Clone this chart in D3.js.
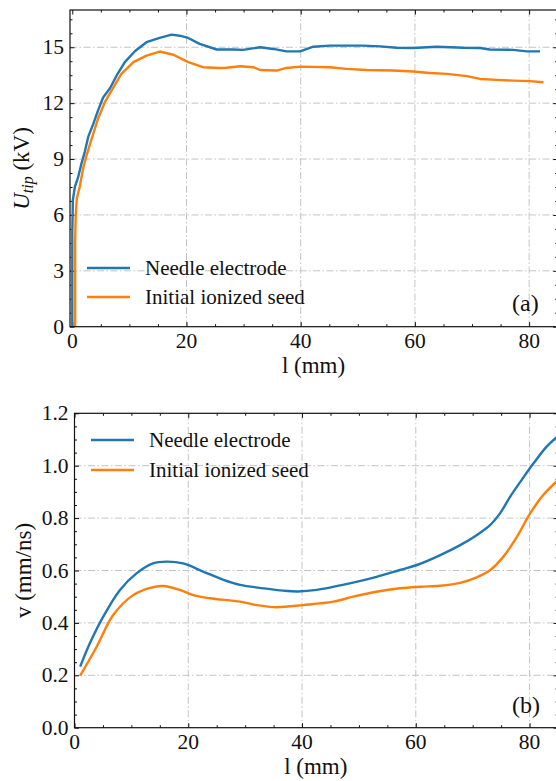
<!DOCTYPE html>
<html>
<head>
<meta charset="utf-8">
<script src="https://cdn.jsdelivr.net/npm/d3@7"></script>
<style>
html,body{margin:0;padding:0;background:#fff;}
svg{display:block;}
text{font-family:"Liberation Serif","Times New Roman",serif;fill:#111;}
</style>
</head>
<body>
<svg id="chart" width="556" height="781"></svg>
<script>
// ---- Data ----
const seriesNames = ["Needle electrode", "Initial ionized seed"];
const seriesColors = ["#1f77b4", "#ff7f0e"];

// Panel (a): tip voltage U_tip (kV) vs length l (mm)
const aNeedleL = [0,0,0.1,0.45,1.0,1.6,2.2,2.8,3.7,4.5,5.4,6.6,7.8,9.2,11.0,13.0,15.3,17.4,18.8,20.3,22.3,25.3,28.2,29.9,32.9,35.2,37.5,39.9,42.2,45.1,50.9,53.9,56.8,59.7,63.8,68.5,71.4,73.1,77.2,79.6,81.9];
const aNeedleU = [0,5,6.8,7.5,8.0,8.75,9.4,10.2,10.9,11.6,12.3,12.8,13.5,14.2,14.8,15.27,15.5,15.68,15.62,15.5,15.18,14.88,14.88,14.86,15.0,14.91,14.78,14.78,15.03,15.09,15.09,15.05,14.97,14.96,15.03,14.97,14.96,14.88,14.86,14.78,14.78];
const aSeedL = [0.5,0.5,0.6,0.8,1.3,1.9,2.5,3.4,4.5,5.7,7.2,8.6,10.7,13.0,15.3,17.7,20.3,22.9,25.8,27.0,29.4,31.7,32.9,35.8,37.5,39.9,45.1,48.0,51.5,56.2,59.7,62.6,65.6,69.1,71.4,74.3,77.2,80.1,82.5];
const aSeedU = [0,4.5,6.0,6.9,7.5,8.5,9.2,10.1,11.16,12.05,12.85,13.57,14.2,14.55,14.77,14.6,14.2,13.93,13.89,13.9,13.98,13.93,13.78,13.75,13.89,13.96,13.93,13.84,13.78,13.75,13.7,13.62,13.57,13.45,13.3,13.25,13.21,13.18,13.12];

// Panel (b): velocity v (mm/ns) vs length l (mm)
const bNeedleL = [1,2.7,5.05,8.0,10.9,13.8,16.2,19.1,22.6,26.2,29.1,33.2,36.7,39.3,42.6,48.4,53.1,57.2,60.2,64.3,67.8,70.7,73.1,74.8,76.6,78.4,80.7,83.0,85];
const bNeedleV = [0.233,0.322,0.424,0.526,0.589,0.627,0.634,0.627,0.596,0.564,0.545,0.532,0.523,0.520,0.526,0.551,0.576,0.602,0.621,0.659,0.697,0.735,0.774,0.818,0.882,0.939,1.009,1.073,1.113];
const bSeedL = [1,3.9,6.8,10.3,13.3,15.6,18.5,20.9,23.8,29.1,32.0,35.5,40.2,45.5,49.0,53.1,57.2,60.8,64.3,67.8,70.7,73.1,75.4,77.8,80.1,82.4,85];
const bSeedV = [0.199,0.309,0.43,0.506,0.534,0.541,0.526,0.506,0.494,0.481,0.468,0.46,0.468,0.481,0.5,0.519,0.532,0.538,0.542,0.553,0.574,0.602,0.653,0.729,0.818,0.888,0.945];

const xTicks = [0,20,40,60,80];
const aYTicks = [0,3,6,9,12,15];
const bYTicks = [0,0.2,0.4,0.6,0.8,1.0,1.2];
const aYLabel = ["U", "tip", " (kV)"];
const bYLabel = "v (mm/ns)";
const xLabel = "l (mm)";
const panelTags = ["(a)", "(b)"];

// ---- Drawing ----
const svg = d3.select("#chart");

function panel(cfg) {
  const g = svg.append("g");
  const x = d3.scaleLinear().domain(cfg.xDomain).range([cfg.left, cfg.right]);
  const y = d3.scaleLinear().domain(cfg.yDomain).range([cfg.bottom, cfg.top]);
  const clipId = "clip" + cfg.id;
  svg.append("clipPath").attr("id", clipId).append("rect")
    .attr("x", cfg.left).attr("y", cfg.top)
    .attr("width", cfg.right - cfg.left).attr("height", cfg.bottom - cfg.top);

  // grid
  const grid = g.append("g").attr("stroke", "#c4c4c4").attr("stroke-width", 1)
    .attr("stroke-dasharray", "7,2.5,1.5,2.5").attr("fill", "none");
  xTicks.forEach(t => { if (t > cfg.xDomain[0] + 0.5) grid.append("line").attr("x1", x(t)).attr("x2", x(t)).attr("y1", cfg.top).attr("y2", cfg.bottom); });
  cfg.yTicks.forEach(t => { if (t > cfg.yDomain[0] && t < cfg.yDomain[1]) grid.append("line").attr("x1", cfg.left).attr("x2", cfg.right).attr("y1", y(t)).attr("y2", y(t)); });

  // axes (ticks inward, all four sides)
  const majorLen = 4.5, minorLen = 2.5;
  const xMinor = d3.range(0, 86, 5).filter(v => !xTicks.includes(v));
  const yMinor = d3.range(cfg.yDomain[0], cfg.yDomain[1] + 1e-9, cfg.yMinorStep).map(v => +v.toFixed(4)).filter(v => !cfg.yTicks.some(t => Math.abs(t - v) < 1e-6));

  const ax = (scale, orient, ticks, len) =>
    orient(scale).tickValues(ticks).tickSizeInner(-len).tickSizeOuter(0).tickFormat("");
  function drawAxis(gen, transform) {
    const s = g.append("g").attr("transform", transform).call(gen);
    s.select(".domain").remove();
    s.selectAll("line").attr("stroke", "#111").attr("stroke-width", 1);
    return s;
  }
  drawAxis(ax(x, d3.axisBottom, xTicks, majorLen), `translate(0,${cfg.bottom})`);
  drawAxis(ax(x, d3.axisBottom, xMinor, minorLen), `translate(0,${cfg.bottom})`);
  drawAxis(ax(x, d3.axisTop, xTicks, majorLen), `translate(0,${cfg.top})`);
  drawAxis(ax(x, d3.axisTop, xMinor, minorLen), `translate(0,${cfg.top})`);
  drawAxis(ax(y, d3.axisLeft, cfg.yTicks, majorLen), `translate(${cfg.left},0)`);
  drawAxis(ax(y, d3.axisLeft, yMinor, minorLen), `translate(${cfg.left},0)`);
  drawAxis(ax(y, d3.axisRight, cfg.yTicks, majorLen), `translate(${cfg.right},0)`);
  drawAxis(ax(y, d3.axisRight, yMinor, minorLen), `translate(${cfg.right},0)`);

  // tick labels
  const fs = 21.5;
  xTicks.forEach(t => g.append("text").attr("x", x(t)).attr("y", cfg.bottom + 21.5)
    .attr("text-anchor", "middle").attr("font-size", fs).text(t));
  cfg.yTicks.forEach(t => g.append("text").attr("x", cfg.left - 6).attr("y", y(t) + 7)
    .attr("text-anchor", "end").attr("font-size", fs).text(cfg.yFmt(t)));

  // lines
  const lineG = g.append("g").attr("clip-path", `url(#${clipId})`);
  cfg.series.forEach((s, i) => {
    const pts = s.xs.map((v, k) => [v, s.ys[k]]);
    const line = d3.line().x(d => x(d[0])).y(d => y(d[1])).curve(cfg.curve);
    lineG.append("path").attr("d", line(pts)).attr("fill", "none")
      .attr("stroke", seriesColors[i]).attr("stroke-width", 2.4)
      .attr("stroke-linejoin", "round").attr("stroke-linecap", "butt");
  });

  // spines
  g.append("rect").attr("x", cfg.left).attr("y", cfg.top)
    .attr("width", cfg.right - cfg.left).attr("height", cfg.bottom - cfg.top)
    .attr("fill", "none").attr("stroke", "#111").attr("stroke-width", 1.2);

  // legend
  seriesNames.forEach((n, i) => {
    const ly = cfg.legendY[i];
    g.append("line").attr("x1", cfg.legendX).attr("x2", cfg.legendX + 43)
      .attr("y1", ly).attr("y2", ly).attr("stroke", seriesColors[i]).attr("stroke-width", 2.4);
    g.append("text").attr("x", cfg.legendX + 58).attr("y", ly + 6.5)
      .attr("font-size", 21).text(n);
  });

  // x label
  g.append("text").attr("x", (cfg.left + 557) / 2).attr("y", cfg.bottom + 46)
    .attr("text-anchor", "middle").attr("font-size", 23).text(xLabel);

  // panel tag
  g.append("text").attr("x", 512).attr("y", cfg.tagY).attr("font-size", 24).text(cfg.tag);

  return {g, x, y};
}

const a = panel({
  id: "a", left: 70, right: 557.7, top: 10, bottom: 326.7,
  xDomain: [-0.4, 85], yDomain: [0, 17], yTicks: aYTicks, yMinorStep: 0.75,
  yFmt: d => d3.format("d")(d),
  series: [{xs: aNeedleL, ys: aNeedleU}, {xs: aSeedL, ys: aSeedU}],
  curve: d3.curveLinear,
  legendX: 87, legendY: [268, 297], tag: panelTags[0], tagY: 311
});
// y label (a)
{
  const t = a.g.append("text").attr("transform", "translate(29,168.5) rotate(-90)")
    .attr("text-anchor", "middle").attr("font-size", 23);
  t.append("tspan").attr("font-style", "italic").text(aYLabel[0]);
  t.append("tspan").attr("font-style", "italic").attr("font-size", 16).attr("dy", 4).text(aYLabel[1]);
  t.append("tspan").attr("dy", -4).text(aYLabel[2]);
}

const b = panel({
  id: "b", left: 74.5, right: 558, top: 413.3, bottom: 727.7,
  xDomain: [0, 85], yDomain: [0, 1.2], yTicks: bYTicks, yMinorStep: 0.05,
  yFmt: d => d3.format(".1f")(d),
  series: [{xs: bNeedleL, ys: bNeedleV}, {xs: bSeedL, ys: bSeedV}],
  curve: d3.curveCatmullRom.alpha(0.5),
  legendX: 91, legendY: [440, 470], tag: panelTags[1], tagY: 713
});
b.g.append("text").attr("transform", "translate(31,570.5) rotate(-90)")
  .attr("text-anchor", "middle").attr("font-size", 23).text(bYLabel);
</script>
</body>
</html>
